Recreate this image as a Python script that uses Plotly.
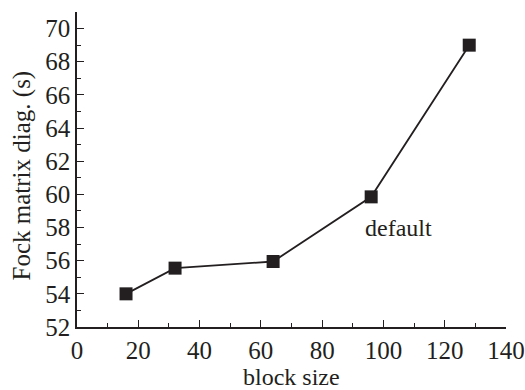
import plotly.graph_objects as go

block_size = [16, 32, 64, 96, 128]
fock_time = [54.0, 55.55, 55.95, 59.85, 69.0]
annot_text = "default"
annot_x = 105
annot_y = 58.0
x_title = "block size"
y_title = "Fock matrix diag. (s)"

ink = "#231f20"
font = "Liberation Serif"

fig = go.Figure()
fig.add_trace(go.Scatter(
    x=block_size, y=fock_time, mode="lines+markers",
    line=dict(color=ink, width=1.8),
    marker=dict(symbol="square", size=13, color=ink),
    showlegend=False,
))
fig.add_annotation(x=annot_x, y=annot_y, text=annot_text, showarrow=False,
                   font=dict(family=font, size=24, color=ink))
fig.add_annotation(xref="paper", yref="paper", x=0.5, y=0, yshift=-50,
                   text=x_title, showarrow=False, yanchor="middle",
                   font=dict(family=font, size=24, color=ink))
fig.add_annotation(xref="paper", yref="paper", x=0, y=0.5, xshift=-56, yshift=-6,
                   text=y_title, showarrow=False, textangle=-90, xanchor="center",
                   font=dict(family=font, size=25, color=ink))

fig.update_layout(
    width=525, height=390,
    margin=dict(l=77, r=19, t=12, b=63),
    paper_bgcolor="white", plot_bgcolor="white",
    font=dict(family=font, color=ink, size=25),
)
fig.update_xaxes(
    range=[0, 140], tickvals=list(range(0, 141, 20)),
    ticks="inside", ticklen=7, tickwidth=1.3, tickcolor=ink,
    minor=dict(dtick=10, ticks="inside", ticklen=4, tickwidth=1.3, tickcolor=ink),
    showline=True, linecolor=ink, linewidth=1.5, showgrid=False, zeroline=False,
    tickfont=dict(size=25), automargin=False,
)
fig.update_yaxes(
    range=[52, 71], tickvals=list(range(52, 71, 2)),
    ticks="inside", ticklen=7, tickwidth=1.3, tickcolor=ink,
    minor=dict(dtick=1, ticks="inside", ticklen=4, tickwidth=1.3, tickcolor=ink),
    showline=True, linecolor=ink, linewidth=1.5, showgrid=False, zeroline=False,
    tickfont=dict(size=25), automargin=False,
)

fig.write_html(
    "out.html",
    config={"displayModeBar": False},
    post_script="document.body.style.margin='0';document.body.style.overflow='hidden';",
)
